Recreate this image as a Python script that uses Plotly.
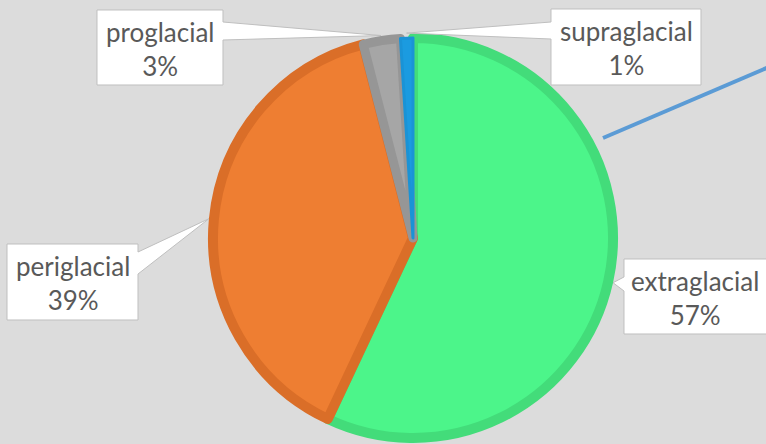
import math
import plotly.graph_objects as go

# Share of landforms by glacial setting
labels = ["extraglacial", "periglacial", "proglacial", "supraglacial"]
values = [57, 39, 3, 1]
fill_colors = ["#4CF58A", "#EE7E32", "#A6A6A6", "#1B9BE0"]
edge_colors = ["#43DC7A", "#DA6E28", "#969696", "#1A93D6"]
edge_widths = [10, 10, 9, 3]

W, H = 766, 444
CX, CY = 413, 238          # pie centre (px)
R_OUT = 205                # outer radius incl. border (px)
R_LINE = R_OUT - 5


def px(x):
    return x / W


def py(y):
    return 1 - y / H


total = sum(values)
pcts = [round(100 * v / total) for v in values]

# angle (clockwise from 12 o'clock) of each slice's midpoint
mid_angles = []
acc = 0
for v in values:
    mid_angles.append(360 * (acc + v / 2) / total)
    acc += v


def anchor(i, r=R_OUT):
    a = math.radians(mid_angles[i])
    return CX + r * math.sin(a), CY - r * math.cos(a)


fig = go.Figure()
fig.add_trace(go.Pie(
    labels=labels,
    values=values,
    sort=False,
    direction="clockwise",
    rotation=0,
    textinfo="none",
    hoverinfo="label+percent",
    showlegend=False,
    marker=dict(colors=fill_colors, line=dict(color=edge_colors, width=edge_widths)),
    domain=dict(x=[px(CX - R_LINE), px(CX + R_LINE)],
                y=[py(CY + R_LINE), py(CY - R_LINE)]),
))

# callout boxes: (left, top, right, bottom), side of the tail, tail base y-range
boxes = {
    "extraglacial": ((624, 259, 790, 334), "left", (277, 291)),
    "periglacial": ((7, 244, 138, 320), "right", (252, 274)),
    "proglacial": ((97, 10, 223, 85), "right", (22, 40)),
    "supraglacial": ((551, 9, 701, 85), "left", (22, 39)),
}

shapes = []
annotations = []
for i, name in enumerate(labels):
    (l, t, r, b), side, (b0, b1) = boxes[name]
    tx, ty = anchor(i)
    if side == "right":
        pts = [(l, t), (r, t), (r, b0), (tx, ty), (r, b1), (r, b), (l, b)]
    else:
        pts = [(l, t), (r, t), (r, b), (l, b), (l, b1), (tx, ty), (l, b0)]
    path = "M " + " L ".join(f"{px(x):.5f},{py(y):.5f}" for x, y in pts) + " Z"
    shapes.append(dict(type="path", path=path, xref="paper", yref="paper",
                       fillcolor="white", line=dict(color="#BFBFBF", width=1),
                       layer="above"))
    text_x = (l + r) / 2 if r <= W else 695
    annotations.append(dict(
        x=px(text_x), y=py((t + b) / 2 + 1),
        xref="paper", yref="paper", xanchor="center", yanchor="middle",
        showarrow=False,
        text=f"{name}<br>{pcts[i]}%", align="center",
        font=dict(family="Lato, 'Open Sans', sans-serif", size=26, color="#595959"),
    ))

# leader line entering from the upper right
shapes.append(dict(type="line", xref="paper", yref="paper",
                   x0=px(603), y0=py(138), x1=px(770), y1=py(66.5),
                   line=dict(color="#5B9BD5", width=4), layer="above"))

fig.update_layout(
    width=W, height=H,
    margin=dict(l=0, r=0, t=0, b=0),
    paper_bgcolor="#DCDCDC",
    plot_bgcolor="#DCDCDC",
    shapes=shapes,
    annotations=annotations,
)

fig.write_html("out.html")
